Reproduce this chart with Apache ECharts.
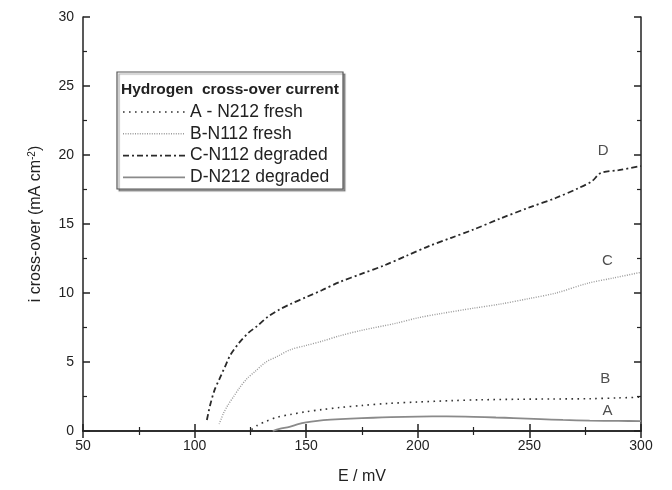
<!DOCTYPE html>
<html>
<head>
<meta charset="utf-8">
<script src="https://cdn.jsdelivr.net/npm/echarts@6/dist/echarts.min.js"></script>
<style>
  html, body { margin: 0; padding: 0; background: #fff; }
  #chart { width: 672px; height: 490px; }
</style>
</head>
<body>
<div id="chart"></div>
<script>
// Hydrogen cross-over current vs potential, four membranes
const curveD_E = [105.5, 107, 109, 111.5, 114, 116, 120, 124, 128, 133, 138, 143, 150, 157, 165, 175, 185, 195, 205, 215, 225, 237, 250, 262, 272, 278, 282, 290, 300];
const curveD_i = [0.8, 1.9, 3.0, 3.9, 4.8, 5.5, 6.4, 7.1, 7.6, 8.3, 8.8, 9.2, 9.7, 10.2, 10.8, 11.4, 12.0, 12.7, 13.4, 14.0, 14.6, 15.4, 16.2, 16.9, 17.6, 18.1, 18.7, 18.9, 19.2];

const curveC_E = [111, 113, 115, 117.5, 120, 123.5, 127, 132, 137, 143, 150, 157, 165, 175, 190, 200, 210, 225, 237, 250, 262, 276, 288, 300];
const curveC_i = [0.5, 1.3, 1.9, 2.5, 3.1, 3.8, 4.3, 5.0, 5.4, 5.9, 6.2, 6.5, 6.9, 7.3, 7.8, 8.2, 8.5, 8.9, 9.2, 9.6, 10.0, 10.7, 11.1, 11.5];

const curveB_E = [125.5, 128, 132, 137, 143, 150, 157, 165, 175, 187, 200, 215, 228, 245, 260, 277, 290, 300];
const curveB_i = [0.1, 0.4, 0.7, 1.0, 1.2, 1.4, 1.55, 1.7, 1.85, 2.0, 2.1, 2.2, 2.26, 2.3, 2.32, 2.34, 2.4, 2.45];

const curveA_E = [135, 138, 142.5, 146, 150, 155, 161, 170, 180, 188, 200, 213, 225, 235, 243, 255, 265, 277, 290, 300];
const curveA_i = [0, 0.15, 0.3, 0.48, 0.63, 0.74, 0.82, 0.9, 0.96, 1.0, 1.04, 1.06, 1.03, 0.98, 0.94, 0.86, 0.8, 0.75, 0.73, 0.72];

// curve tags written beside the right ends
const tagNames = ['D', 'C', 'B', 'A'];
const tagE = [283, 285, 284, 285];
const tagI = [20.3, 12.3, 3.75, 1.45];

const legendTitle = 'Hydrogen  cross-over current';
const legendNames = ['A - N212 fresh', 'B-N112 fresh', 'C-N112 degraded', 'D-N212 degraded'];

const xTicks = [50, 100, 150, 200, 250, 300];
const yTicks = [0, 5, 10, 15, 20, 25, 30];

const FONT = 'Liberation Sans, Arial, sans-serif';

// line styles shared by curves and legend samples
const styles = {
  dotA:   { color: '#333', width: 1.6, type: [1.6, 4.4] },
  dotB:   { color: '#9a9a9a', width: 1.4, type: [1, 1.4] },
  dashC:  { color: '#2a2a2a', width: 1.8, type: [6, 3, 2, 3] },
  solidD: { color: '#8a8a8a', width: 1.8, type: 'solid' }
};

function pairs(xs, ys) { return xs.map((x, k) => [x, ys[k]]); }

const chart = echarts.init(document.getElementById('chart'), null, { renderer: 'canvas' });

const axisCommon = {
  axisLine: { show: true, lineStyle: { color: '#222', width: 1.5 } },
  axisTick: { show: true, inside: true, length: 7, lineStyle: { color: '#222', width: 1.5 } },
  minorTick: { show: true, splitNumber: 2, length: 4, lineStyle: { color: '#222', width: 1.2 } },
  splitLine: { show: false }
};

function lineSeries(data, st) {
  return {
    type: 'line', data: data, showSymbol: false, symbol: 'none', smooth: 0.3,
    lineStyle: { color: st.color, width: st.width, type: st.type },
    silent: true, animation: false, z: 3
  };
}

const option = {
  animation: false,
  backgroundColor: '#fff',
  grid: { left: 83, right: 31, top: 17, bottom: 57, containLabel: false },
  xAxis: [
    Object.assign({}, axisCommon, {
      type: 'value', min: 50, max: 300, interval: 50,
      name: 'E / mV', nameLocation: 'middle', nameGap: 38,
      nameTextStyle: { fontFamily: FONT, fontSize: 16, color: '#222' },
      axisLabel: { fontFamily: FONT, fontSize: 14, color: '#222', margin: 8,
        formatter: v => (xTicks.includes(v) ? String(v) : '') }
    }),
    Object.assign({}, axisCommon, {
      type: 'value', min: 50, max: 300, interval: 50, position: 'top',
      axisLabel: { show: false }
    })
  ],
  yAxis: [
    Object.assign({}, axisCommon, {
      type: 'value', min: 0, max: 30, interval: 5,
      name: '{n|i cross-over (mA cm}{s|-2}{n|)}', nameLocation: 'middle', nameGap: 38, nameRotate: 90,
      nameTextStyle: { fontFamily: FONT, color: '#222',
        rich: {
          n: { fontFamily: FONT, fontSize: 16, color: '#222' },
          s: { fontFamily: FONT, fontSize: 10, color: '#222', verticalAlign: 'top', padding: [0, 0, 8, 0] }
        } },
      axisLabel: { fontFamily: FONT, fontSize: 14, color: '#222', margin: 9,
        formatter: v => (yTicks.includes(v) ? String(v) : '') }
    }),
    Object.assign({}, axisCommon, {
      type: 'value', min: 0, max: 30, interval: 5, position: 'right',
      axisLabel: { show: false }
    })
  ],
  series: [
    lineSeries(pairs(curveB_E, curveB_i), styles.dotA),
    lineSeries(pairs(curveC_E, curveC_i), styles.dotB),
    lineSeries(pairs(curveD_E, curveD_i), styles.dashC),
    lineSeries(pairs(curveA_E, curveA_i), styles.solidD),
    {
      type: 'scatter', symbolSize: 0, silent: true, z: 4,
      data: tagNames.map((n, k) => ({ name: n, value: [tagE[k], tagI[k]] })),
      label: { show: true, position: 'inside', formatter: p => p.name,
        fontFamily: FONT, fontSize: 15, color: '#222' }
    }
  ],
  graphic: []
};

chart.setOption(option);

// legend box drawn as a bordered panel with line samples
(function buildLegend() {
  const bx = 117, by = 72, bw = 226, bh = 117;
  const sampleStyles = [styles.dotA, styles.dotB, styles.dashC, styles.solidD];
  const els = [{
    type: 'rect', shape: { x: bx, y: by, width: bw, height: bh },
    style: { fill: '#fff', stroke: '#555', lineWidth: 1.2,
      shadowColor: 'rgba(0,0,0,0.35)', shadowOffsetX: 2, shadowOffsetY: 2, shadowBlur: 1 },
    z: 10
  }, {
    type: 'text', x: bx + 4, y: by + 18,
    style: { text: legendTitle, fontFamily: FONT, fontSize: 15.5, fontWeight: 'bold', fill: '#222', textVerticalAlign: 'middle' },
    z: 11
  }];
  legendNames.forEach((name, k) => {
    const yy = by + 40 + k * 21.8;
    const st = sampleStyles[k];
    els.push({
      type: 'line', shape: { x1: bx + 6, y1: yy, x2: bx + 68, y2: yy },
      style: { stroke: st.color, lineWidth: st.width, lineDash: st.type === 'solid' ? null : st.type },
      z: 11
    });
    els.push({
      type: 'text', x: bx + 73, y: yy,
      style: { text: name, fontFamily: FONT, fontSize: 17.5, fill: '#222', textVerticalAlign: 'middle' },
      z: 11
    });
  });
  chart.setOption({ graphic: els });
})();
</script>
</body>
</html>
